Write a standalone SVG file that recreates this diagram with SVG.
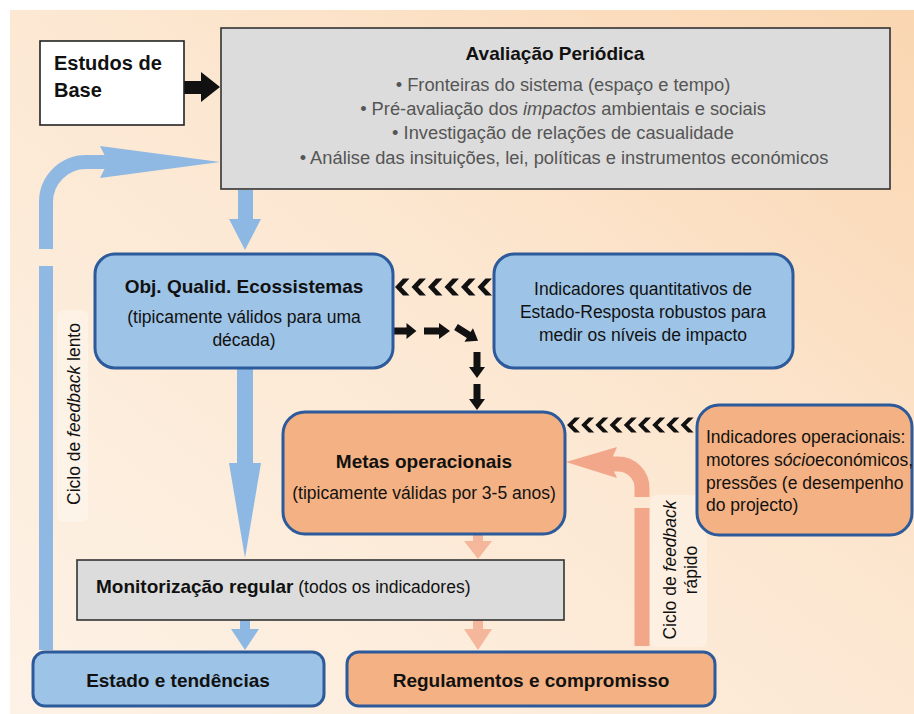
<svg xmlns="http://www.w3.org/2000/svg" width="914" height="714" viewBox="0 0 914 714">
<defs>
<linearGradient id="bg" x1="1" y1="0" x2="0" y2="1">
<stop offset="0" stop-color="#fad6b1"/>
<stop offset="0.45" stop-color="#fce7d1"/>
<stop offset="1" stop-color="#fdf2e6"/>
</linearGradient>
<path id="chev" d="M0,0 L8,-8.5 H14.5 L6.5,0 L14.5,8.5 H8 Z"/>
<path id="chev2" d="M0,0 L7.5,-7.5 H13 L5.5,0 L13,7.5 H7.5 Z"/>
<path id="blk" d="M0,-3.5 H15 V-8 L26,0 L15,8 V3.5 H0 Z"/>
</defs>
<style>
text{font-family:"Liberation Sans",Arial,sans-serif;fill:#111}
.t{font-size:19px;font-weight:bold}
.n{font-size:17.5px}
.g{font-size:18.3px;fill:#555}
.blue{fill:#9dc3e6;stroke:#2c5a9a;stroke-width:3}
.org{fill:#f4b183;stroke:#2c5a9a;stroke-width:3}
.gray{fill:#dcdcdc;stroke:#333;stroke-width:1.6}
.ba{fill:#8db8e4}
.oa{fill:#f2a68a}
.ol{fill:#f5b79b}
.bl{fill:#111}
</style>
<rect width="914" height="714" fill="#fff"/>
<rect x="10" y="10" width="904" height="704" fill="url(#bg)"/>
<rect x="57" y="310" width="31" height="212" rx="6" fill="#fff" opacity="0.3"/>
<rect x="650" y="495" width="57" height="152" rx="6" fill="#fff" opacity="0.3"/>

<g id="connectors">
<polygon class="bl" points="184,81 201,81 201,72 220,87 201,102 201,94 184,94"/>
<polygon class="ba" points="238,190 253,190 253,219 261,219 245,250 229,219 238,219"/>
<polygon class="ba" points="237,368 253,368 253,463 261,463 245,558 229,463 237,463"/>
<polygon class="ba" points="240,620 250,620 250,629 259,629 245,650 231,629 240,629"/>
<polygon class="ol" points="473,535 483,535 483,541 492,541 478,559 464,541 473,541"/>
<polygon class="ol" points="473,620 483,620 483,629 492,629 478,650 464,629 473,629"/>
<g fill="none" stroke="#8fb8e3" stroke-width="14">
<path d="M46,650 V266"/>
<path d="M46,249 V202 A40,40 0 0 1 86,162 H108"/>
</g>
<polygon fill="#8fb8e3" points="100,146 220,162 100,178 108,162"/>
<g fill="none" stroke="#f2a68a" stroke-width="15">
<path d="M642,646 V508"/>
<path d="M642,497 V488 A24,24 0 0 0 618,464 H610"/>
</g>
<polygon class="oa" points="617,447 566,462 617,478 610,463"/>
<g class="bl">
<use href="#chev" x="395" y="287"/>
<use href="#chev" x="411.5" y="287"/>
<use href="#chev" x="428" y="287"/>
<use href="#chev" x="444.5" y="287"/>
<use href="#chev" x="461" y="287"/>
<use href="#chev" x="477.5" y="287"/>
<use href="#chev2" x="567" y="425"/>
<use href="#chev2" x="581.2" y="425"/>
<use href="#chev2" x="595.4" y="425"/>
<use href="#chev2" x="609.6" y="425"/>
<use href="#chev2" x="623.8" y="425"/>
<use href="#chev2" x="638" y="425"/>
<use href="#chev2" x="652.2" y="425"/>
<use href="#chev2" x="666.4" y="425"/>
<use href="#chev2" x="680.6" y="425"/>
<use href="#blk" transform="translate(393,331) scale(0.9,1)"/>
<use href="#blk" transform="translate(424,331)"/>
<use href="#blk" transform="translate(456,327) rotate(32)"/>
<use href="#blk" transform="translate(477,352) rotate(90)"/>
<use href="#blk" transform="translate(477,384) rotate(90)"/>
</g>
</g>

<g id="label-lento">
<text class="n" transform="translate(80,414) rotate(-90)" text-anchor="middle">Ciclo de <tspan font-style="italic">feedback</tspan> lento</text>
</g>
<g id="label-rapido">
<text class="n" transform="translate(676,570) rotate(-90)" text-anchor="middle"><tspan x="0" y="0">Ciclo de <tspan font-style="italic">feedback</tspan></tspan><tspan x="0" y="21">rápido</tspan></text>
</g>

<g id="estudos">
<rect x="40" y="41" width="144" height="84" fill="#fff" stroke="#222" stroke-width="1.6"/>
<text x="54" y="70" font-size="20" font-weight="bold">Estudos de</text>
<text x="54" y="97" font-size="20" font-weight="bold">Base</text>
</g>

<g id="avaliacao">
<rect class="gray" x="221" y="28" width="669" height="161"/>
<text class="t" x="555" y="60" text-anchor="middle">Avaliação Periódica</text>
<text class="g" x="563" y="91" text-anchor="middle">• Fronteiras do sistema (espaço e tempo)</text>
<text class="g" x="563" y="115" text-anchor="middle">• Pré-avaliação dos <tspan font-style="italic">impactos</tspan> ambientais e sociais</text>
<text class="g" x="563" y="139" text-anchor="middle">• Investigação de relações de casualidade</text>
<text class="g" x="564" y="164" text-anchor="middle">• Análise das insituições, lei, políticas e instrumentos económicos</text>
</g>

<g id="obj">
<rect class="blue" x="95" y="254" width="298" height="114" rx="20"/>
<text class="t" x="244" y="293" text-anchor="middle">Obj. Qualid. Ecossistemas</text>
<text class="n" x="244" y="323" text-anchor="middle">(tipicamente válidos para uma</text>
<text class="n" x="244" y="346" text-anchor="middle">década)</text>
</g>

<g id="ind-quant">
<rect class="blue" x="494" y="254" width="299" height="114" rx="20"/>
<text class="n" x="643" y="295" text-anchor="middle">Indicadores quantitativos de</text>
<text class="n" x="643" y="318" text-anchor="middle">Estado-Resposta robustos para</text>
<text class="n" x="643" y="341" text-anchor="middle">medir os níveis de impacto</text>
</g>

<g id="metas">
<rect class="org" x="283" y="412" width="282" height="122" rx="22"/>
<text class="t" x="424" y="468" text-anchor="middle">Metas operacionais</text>
<text class="n" x="424" y="499" text-anchor="middle">(tipicamente válidas por 3-5 anos)</text>
</g>

<g id="ind-oper">
<rect class="org" x="697" y="405" width="215" height="130" rx="22"/>
<text class="n" x="706" y="443">Indicadores operacionais:</text>
<text class="n" x="706" y="466">motores s<tspan font-style="italic">ócio</tspan>económicos,</text>
<text class="n" x="706" y="489">pressões (e desempenho</text>
<text class="n" x="706" y="511">do projecto)</text>
</g>

<g id="monitorizacao">
<rect class="gray" x="77" y="560" width="487" height="60"/>
<text x="96" y="593"><tspan class="t">Monitorização regular</tspan><tspan class="n"> (todos os indicadores)</tspan></text>
</g>

<g id="estado">
<rect class="blue" x="33" y="652" width="291" height="54" rx="12"/>
<text class="t" x="178" y="687" text-anchor="middle">Estado e tendências</text>
</g>

<g id="regulamentos">
<rect class="org" x="347" y="652" width="368" height="54" rx="12"/>
<text class="t" x="531" y="687" text-anchor="middle">Regulamentos e compromisso</text>
</g>
</svg>
